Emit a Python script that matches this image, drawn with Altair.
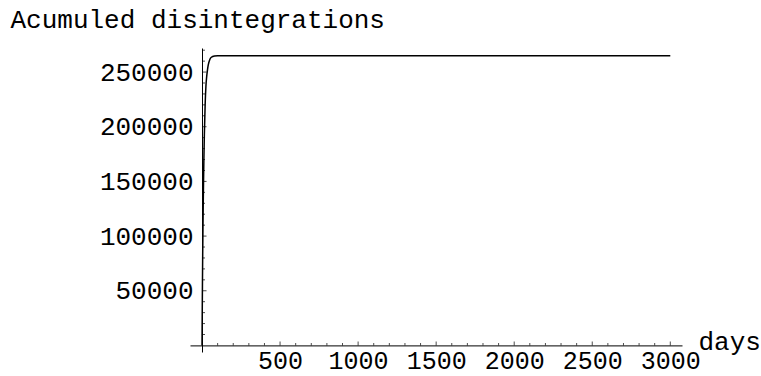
import altair as alt
import pandas as pd

# Accumulated disintegrations over time (days)
days = [0, 1, 2, 3, 4, 5, 6, 8, 10, 12, 15, 20, 25, 30, 35, 40, 50, 60, 80, 100, 200, 3000]
counts = [0, 22000, 42000, 61000, 78000, 93000, 107000, 132000, 153000, 171000,
          193000, 220000, 237000, 246000, 252000, 256500, 261500, 263500, 264700,
          265000, 265000, 265000]

x_labels = [500, 1000, 1500, 2000, 2500, 3000]
y_labels = [50000, 100000, 150000, 200000, 250000]
x_minor = [d for d in range(100, 3001, 100) if d % 500]
y_minor = [v for v in range(10000, 270001, 10000) if v % 50000]

FONT = "Liberation Mono"
FS = 26

x_scale = alt.Scale(domain=[-77, 3075], nice=False, zero=False)
y_scale = alt.Scale(domain=[-6000, 272000], nice=False, zero=False)

x_axis = alt.Axis(
    values=x_labels, format="d", orient="bottom", offset=-6.6,
    domain=True, domainColor="black", domainWidth=1,
    ticks=False, tickSize=0, grid=False,
    labelFont=FONT, labelFontSize=25, labelColor="black",
    labelPadding=23.1, labelBaseline="alphabetic", labelFlush=False, labelOverlap=False,
    title="days", titleFont=FONT, titleFontSize=FS, titleFontWeight="normal",
    titleColor="black", titleAngle=0, titleAlign="left", titleBaseline="alphabetic",
    titleX=508, titleY=3.6)

y_axis = alt.Axis(
    values=y_labels, format="d", orient="left", offset=-12,
    domain=True, domainColor="black", domainWidth=1,
    ticks=False, tickSize=0, grid=False,
    labelFont=FONT, labelFontSize=FS, labelColor="black",
    labelPadding=9, labelBaseline="middle", labelFlush=False, labelOverlap=False,
    title="Acumuled disintegrations", titleFont=FONT, titleFontSize=FS,
    titleFontWeight="normal", titleColor="black", titleAngle=0,
    titleAlign="left", titleBaseline="alphabetic", titleX=-192, titleY=-21)

curve = pd.DataFrame({"x": days, "y": counts})

line = alt.Chart(curve).mark_line(color="black", strokeWidth=1.5, interpolate="monotone").encode(
    x=alt.X("x:Q", scale=x_scale, axis=x_axis),
    y=alt.Y("y:Q", scale=y_scale, axis=y_axis),
)


def x_ticks(values, length):
    # short ticks pointing up from the horizontal axis
    df = pd.DataFrame({"x": values, "y": [0] * len(values)})
    return alt.Chart(df).mark_tick(orient="vertical", size=length, thickness=1,
                                   yOffset=-length / 2, color="black").encode(
        x=alt.X("x:Q", scale=x_scale, axis=x_axis),
        y=alt.Y("y:Q", scale=y_scale, axis=y_axis),
    )


def y_ticks(values, length):
    # short ticks pointing right from the vertical axis
    df = pd.DataFrame({"y": values, "x": [0] * len(values)})
    return alt.Chart(df).mark_tick(orient="horizontal", size=length, thickness=1,
                                   xOffset=length / 2, color="black").encode(
        x=alt.X("x:Q", scale=x_scale, axis=x_axis),
        y=alt.Y("y:Q", scale=y_scale, axis=y_axis),
    )


chart = alt.layer(
    line,
    x_ticks(x_minor, 2.5), x_ticks(x_labels, 4),
    y_ticks(y_minor, 3), y_ticks(y_labels, 4.5),
).properties(
    width=492, height=304,
    autosize=alt.AutoSizeParams(type="none"),
    padding={"left": 190, "top": 48, "right": 79, "bottom": 24},
    background="white",
).configure_view(stroke=None)

chart.save("out.html", embed_options={"renderer": "svg", "actions": False})
